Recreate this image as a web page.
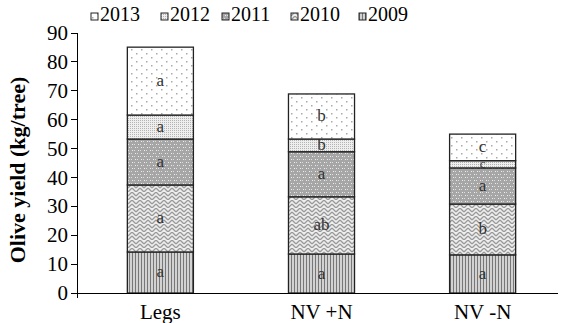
<!DOCTYPE html>
<html>
  <head>
    <meta charset="UTF-8" />
    <script src="https://d3js.org/d3.v7.min.js"></script>
  </head>
  <body style="margin:0">
    <script>
      var treatments = ["Legs", "NV +N", "NV -N"];
      var years = ["2009", "2010", "2011", "2012", "2013"];
      var legendOrder = ["2013", "2012", "2011", "2010", "2009"];
      var yield2009 = [14.2, 13.5, 13.2];
      var yield2010 = [23.2, 19.8, 17.6];
      var yield2011 = [15.9, 15.6, 12.5];
      var yield2012 = [8.3, 4.4, 2.5];
      var yield2013 = [23.5, 15.6, 9.2];
      var letters2009 = ["a", "a", "a"];
      var letters2010 = ["a", "ab", "b"];
      var letters2011 = ["a", "a", "a"];
      var letters2012 = ["a", "b", "c"];
      var letters2013 = ["a", "b", "c"];
      var yTicks = [0, 10, 20, 30, 40, 50, 60, 70, 80, 90];

      var values = [yield2009, yield2010, yield2011, yield2012, yield2013];
      var letters = [letters2009, letters2010, letters2011, letters2012, letters2013];
      var FONT = "'Liberation Serif'";

      var rows = treatments.map(function (t, i) {
        var r = { treatment: t };
        years.forEach(function (y, k) {
          r[y] = values[k][i];
        });
        return r;
      });

      var width = 564,
        height = 323;
      var margin = { top: 33, right: 6, bottom: 30, left: 77 };

      var svg = d3
        .select("body")
        .append("svg")
        .attr("width", width)
        .attr("height", height);

      // fill patterns
      var defs = svg.append("defs");

      var p9 = defs.append("pattern").attr("id", "p2009")
        .attr("patternUnits", "userSpaceOnUse").attr("width", 3).attr("height", 4);
      p9.append("rect").attr("width", 3).attr("height", 4).attr("fill", "#d2d2d2");
      p9.append("rect").attr("width", 1).attr("height", 4).attr("fill", "#777");

      var p10 = defs.append("pattern").attr("id", "p2010")
        .attr("patternUnits", "userSpaceOnUse").attr("width", 8).attr("height", 8);
      p10.append("rect").attr("width", 8).attr("height", 8).attr("fill", "#eeeeee");
      p10.append("path").attr("d", "M0,4 L4,0 M4,0 L8,4 M0,8 L4,4 M4,4 L8,8")
        .attr("stroke", "#999").attr("stroke-width", 1.3).attr("fill", "none");

      var p11 = defs.append("pattern").attr("id", "p2011")
        .attr("patternUnits", "userSpaceOnUse").attr("width", 6).attr("height", 6);
      p11.append("rect").attr("width", 6).attr("height", 6).attr("fill", "#a6a6a6");
      p11.append("rect").attr("x", 0).attr("y", 0).attr("width", 1).attr("height", 1).attr("fill", "#eee");
      p11.append("rect").attr("x", 3).attr("y", 3).attr("width", 1).attr("height", 1).attr("fill", "#eee");
      p11.append("rect").attr("x", 2).attr("y", 0).attr("width", 1).attr("height", 1).attr("fill", "#ddd");
      p11.append("rect").attr("x", 5).attr("y", 3).attr("width", 1).attr("height", 1).attr("fill", "#ddd");

      var p12 = defs.append("pattern").attr("id", "p2012")
        .attr("patternUnits", "userSpaceOnUse").attr("width", 2).attr("height", 2);
      p12.append("rect").attr("width", 2).attr("height", 2).attr("fill", "#eeeeee");
      p12.append("rect").attr("width", 1).attr("height", 1).attr("fill", "#b4b4b4");

      var p13 = defs.append("pattern").attr("id", "p2013")
        .attr("patternUnits", "userSpaceOnUse").attr("width", 10).attr("height", 8);
      p13.append("rect").attr("width", 10).attr("height", 8).attr("fill", "#fff");
      p13.append("rect").attr("x", 1).attr("y", 1).attr("width", 1.5).attr("height", 1.5).attr("fill", "#aaa");
      p13.append("rect").attr("x", 6).attr("y", 5).attr("width", 1.5).attr("height", 1.5).attr("fill", "#aaa");

      var x = d3
        .scaleBand()
        .domain(treatments)
        .range([margin.left + 2, width - margin.right + 6])
        .paddingInner(0.59)
        .paddingOuter(0.3);

      var y = d3
        .scaleLinear()
        .domain([0, 90])
        .range([height - margin.bottom, margin.top]);

      var series = d3.stack().keys(years)(rows);

      var layer = svg
        .selectAll(".layer")
        .data(series)
        .enter()
        .append("g")
        .attr("class", "layer");

      var segs = function (d) {
        return d.map(function (v, i) {
          return { key: d.key, k: years.indexOf(d.key), i: i, v0: v[0], v1: v[1] };
        });
      };

      layer
        .selectAll("rect")
        .data(segs)
        .enter()
        .append("rect")
        .attr("x", function (d) { return x(treatments[d.i]); })
        .attr("y", function (d) { return y(d.v1); })
        .attr("width", x.bandwidth())
        .attr("height", function (d) { return y(d.v0) - y(d.v1); })
        .attr("fill", function (d) { return "url(#p" + d.key + ")"; })
        .attr("stroke", "#222")
        .attr("stroke-width", 1.3);

      // letters: thin segments get a smaller letter so it stays inside
      layer
        .selectAll("text")
        .data(segs)
        .enter()
        .append("text")
        .attr("x", function (d) { return x(treatments[d.i]) + x.bandwidth() / 2; })
        .attr("y", function (d) {
          var thin = y(d.v0) - y(d.v1) < 10;
          return y((d.v0 + d.v1) / 2) + (thin ? 4 : 5);
        })
        .attr("text-anchor", "middle")
        .style("font-family", FONT)
        .style("font-size", function (d) {
          return y(d.v0) - y(d.v1) < 10 ? "13px" : "17px";
        })
        .style("fill", "#333")
        .text(function (d) { return letters[d.k][d.i]; });

      // y axis
      var yAxis = svg
        .append("g")
        .attr("transform", "translate(" + margin.left + ",0)");
      yAxis
        .append("line")
        .attr("x1", 0).attr("x2", 0)
        .attr("y1", y(0) + 5).attr("y2", y(90))
        .attr("stroke", "#000")
        .style("shape-rendering", "crispEdges");
      var tick = yAxis
        .selectAll(".tick")
        .data(yTicks)
        .enter()
        .append("g")
        .attr("transform", function (d) { return "translate(0," + y(d) + ")"; });
      tick
        .append("line")
        .attr("x1", -6).attr("x2", 0)
        .attr("stroke", "#000")
        .style("shape-rendering", "crispEdges");
      tick
        .append("text")
        .attr("x", -9)
        .attr("dy", "0.34em")
        .attr("text-anchor", "end")
        .style("font-family", FONT)
        .style("font-size", "21px")
        .text(function (d) { return d; });

      svg
        .append("line")
        .attr("x1", margin.left)
        .attr("x2", width - margin.right)
        .attr("y1", y(0))
        .attr("y2", y(0))
        .attr("stroke", "#000")
        .style("shape-rendering", "crispEdges");

      svg
        .selectAll(".xlab")
        .data(treatments)
        .enter()
        .append("text")
        .attr("x", function (d) { return x(d) + x.bandwidth() / 2; })
        .attr("y", 319)
        .attr("text-anchor", "middle")
        .style("font-family", FONT)
        .style("font-size", "21px")
        .text(function (d) { return d; });

      svg
        .append("text")
        .attr("transform", "translate(25,170) rotate(-90)")
        .attr("text-anchor", "middle")
        .style("font-family", FONT)
        .style("font-size", "22px")
        .style("font-weight", "bold")
        .text("Olive yield (kg/tree)");

      // legend
      var legendX = [91, 161, 222, 291, 359];
      var legend = svg
        .selectAll(".legend")
        .data(legendOrder)
        .enter()
        .append("g")
        .attr("class", "legend")
        .attr("transform", function (d, i) { return "translate(" + legendX[i] + ",0)"; });

      legend
        .append("rect")
        .attr("width", 7)
        .attr("height", 7)
        .attr("y", 13)
        .attr("fill", function (d) { return "url(#p" + d + ")"; })
        .attr("stroke", "#222")
        .attr("stroke-width", 1);

      legend
        .append("text")
        .attr("x", 9)
        .attr("y", 21)
        .style("font-family", FONT)
        .style("font-size", "20px")
        .text(function (d) { return d; });
    </script>
  </body>
</html>
